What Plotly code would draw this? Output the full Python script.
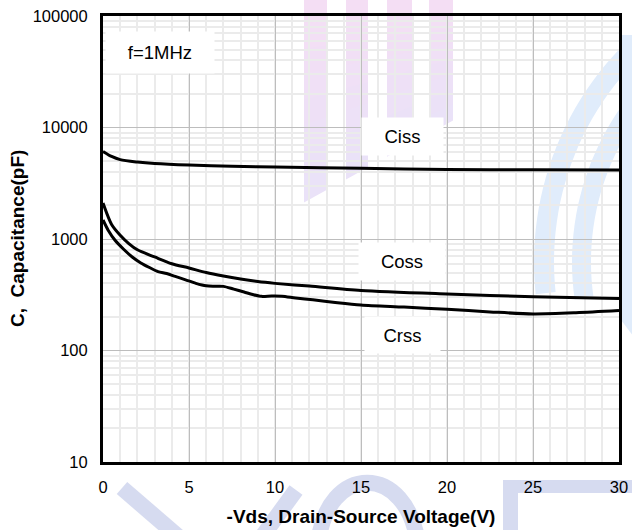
import math
import plotly.graph_objects as go

# Capacitance vs. drain-source voltage, f = 1 MHz
vds_ciss = [0, 0.5, 1, 2, 3, 5, 7.5, 10, 15, 20, 25, 30]
ciss_pf = [6100, 5500, 5150, 4900, 4750, 4600, 4500, 4420, 4300, 4200, 4170, 4150]

vds_coss = [0, 0.5, 1, 1.5, 2, 3, 4, 5, 6, 7, 8, 9, 10, 12, 15, 20, 25, 30]
coss_pf = [2100, 1350, 1080, 910, 800, 690, 600, 550, 500, 465, 437, 415, 400, 378, 345, 321, 304, 292]

vds_crss = [0, 0.3, 0.7, 1.2, 1.7, 2.2, 2.7, 3.2, 3.7, 4.2, 4.8, 5.4, 6.0, 6.5, 7.0, 7.6, 8.2,
            8.7, 9.2, 9.8, 10.4, 11.2, 12.2, 13.5, 15, 17.5, 20, 22.5, 25, 27.5, 30]
crss_pf = [1480, 1200, 975, 810, 690, 610, 555, 510, 490, 462, 430, 400, 380, 377, 376, 355, 335,
           318, 306, 308, 307, 296, 285, 270, 256, 245, 234, 222, 213, 218, 228]

x_ticks = [0, 5, 10, 15, 20, 25, 30]
y_ticks = [10, 100, 1000, 10000, 100000]
y_ticktext = ["10", "100", "1000", "10000", "100000"]
y_minor = [m * d for d in (10, 100, 1000, 10000) for m in range(2, 10)]

FONT = "Arial, Liberation Sans, sans-serif"

# plot area in pixels (used only for the background logo artwork)
L, R, T, B = 103, 619, 16, 462


def fx(px):
    return (px - L) / (R - L)


def fy(py):
    return (B - py) / (B - T)


def poly(points):
    return "M " + " L ".join(f"{fx(a):.4f},{fy(b):.4f}" for a, b in points) + " Z"


fig = go.Figure()

for xs, ys in [(vds_ciss, ciss_pf), (vds_coss, coss_pf), (vds_crss, crss_pf)]:
    fig.add_trace(go.Scatter(
        x=xs, y=ys, mode="lines",
        line=dict(color="black", width=3, shape="spline", smoothing=0.8),
        showlegend=False, hoverinfo="skip",
    ))

shapes = []

# faint logo artwork behind the grid: pink bars
bars = [(304, 327), (346, 368), (387, 412), (429, 453)]
top_c = (245, 222, 244)
bot_c = (233, 226, 248)
nseg = 8
for xl, xr in bars:
    ybl = 202 - 0.55 * (xl - 304)
    ybr = 202 - 0.55 * (xr - 304)
    for k in range(nseg):
        t0, t1 = k / nseg, (k + 1) / nseg
        tm = (t0 + t1) / 2
        col = tuple(int(round(top_c[i] + (bot_c[i] - top_c[i]) * tm)) for i in range(3))
        y0l, y1l = -2 + (ybl + 2) * t0, -2 + (ybl + 2) * t1
        y0r, y1r = -2 + (ybr + 2) * t0, -2 + (ybr + 2) * t1
        shapes.append(dict(
            type="path", xref="paper", yref="paper", layer="below",
            path=poly([(xl, y0l - 0.5), (xr, y0r - 0.5), (xr, y1r + 0.5), (xl, y1l + 0.5)]),
            fillcolor=f"rgb{col}", line=dict(width=0),
        ))

# blue arcs on the right
blue = "rgb(224,236,251)"
cx, cy = 842, 262
for r_in, r_out, a_low in [(288, 308, 186), (251, 270, 188)]:
    angs = [a_low - i * 2 for i in range(45)]
    outer = [(cx + r_out * math.cos(math.radians(a)), cy - r_out * math.sin(math.radians(a))) for a in angs]
    inner = [(cx + r_in * math.cos(math.radians(a)), cy - r_in * math.sin(math.radians(a))) for a in reversed(angs)]
    shapes.append(dict(type="path", xref="paper", yref="paper", layer="below",
                       path=poly(outer + inner), fillcolor=blue, line=dict(width=0)))
shapes.append(dict(type="path", xref="paper", yref="paper", layer="below",
                   path=poly([(621, 35), (640, 35), (640, 345), (621, 320)]),
                   fillcolor=blue, line=dict(width=0)))

# lavender letters along the bottom
lav = "rgb(214,219,240)"
for (x0, y0, x1, y1) in [(122, 488, 188, 545), (296, 490, 256, 545)]:
    shapes.append(dict(type="line", xref="paper", yref="paper", layer="below",
                       x0=fx(x0), y0=fy(y0), x1=fx(x1), y1=fy(y1),
                       line=dict(color=lav, width=16)))
shapes.append(dict(type="path", xref="paper", yref="paper", layer="below",
                   path=f"M {fx(318):.4f},{fy(545):.4f} C {fx(326):.4f},{fy(462):.4f} "
                        f"{fx(408):.4f},{fy(462):.4f} {fx(418):.4f},{fy(545):.4f}",
                   line=dict(color=lav, width=16)))
shapes.append(dict(type="rect", xref="paper", yref="paper", layer="below",
                   x0=fx(503), x1=fx(640), y0=fy(493), y1=fy(480),
                   fillcolor=lav, line=dict(width=0)))
shapes.append(dict(type="rect", xref="paper", yref="paper", layer="below",
                   x0=fx(503), x1=fx(518), y0=fy(545), y1=fy(480),
                   fillcolor=lav, line=dict(width=0)))

fig.update_layout(shapes=shapes)

# curve labels with white boxes
labels = [
    ("f=1MHz", 3.31, 4.673, 106, 39),
    ("Ciss", 17.4, 3.915, 79, 35),
    ("Coss", 17.4, 2.794, 84, 35),
    ("Crss", 17.4, 2.139, 73, 34),
]
for text, ax_x, ax_ylog, w, h in labels:
    fig.add_annotation(
        x=ax_x, y=ax_ylog, xref="x", yref="y", text=text, showarrow=False,
        font=dict(family=FONT, size=18.5, color="black"),
        bgcolor="white", width=w, height=h, align="center", valign="middle",
    )

# vertical axis title
fig.add_annotation(
    x=fx(17), y=0.5, xref="paper", yref="paper", xanchor="center", yanchor="middle",
    text="<b>C,\u00a0 Capacitance(pF)</b>", textangle=-90, showarrow=False,
    font=dict(family=FONT, size=19, color="black"),
)

fig.update_xaxes(
    range=[0, 30], tickvals=x_ticks, ticktext=[str(v) for v in x_ticks],
    showgrid=True, gridcolor="#bdbdbd", gridwidth=1,
    minor=dict(dtick=1, showgrid=True, gridcolor="#ebebeb", gridwidth=2),
    showline=True, mirror=True, linecolor="black", linewidth=3,
    ticks="outside", ticklen=8, tickcolor="rgba(0,0,0,0)",
    tickfont=dict(family=FONT, size=16.5, color="black"),
    zeroline=False, automargin=False,
    title=dict(text="-Vds, Drain-Source Voltage(V)",
               font=dict(family=FONT, size=19, color="black", weight="bold")),
)
fig.update_yaxes(
    type="log", range=[1, 5], tickvals=y_ticks, ticktext=y_ticktext,
    showgrid=True, gridcolor="#bdbdbd", gridwidth=1,
    minor=dict(tickvals=y_minor, showgrid=True, gridcolor="#ebebeb", gridwidth=2),
    showline=True, mirror=True, linecolor="black", linewidth=3,
    ticks="outside", ticklen=9, tickcolor="rgba(0,0,0,0)",
    tickfont=dict(family=FONT, size=16.5, color="black"),
    zeroline=False, automargin=False,
)

fig.update_layout(
    width=632, height=530,
    margin=dict(l=L, r=632 - R, t=T, b=530 - B),
    paper_bgcolor="white", plot_bgcolor="rgba(0,0,0,0)",
    font=dict(family=FONT, color="black"),
)

fig.write_html("out.html")
